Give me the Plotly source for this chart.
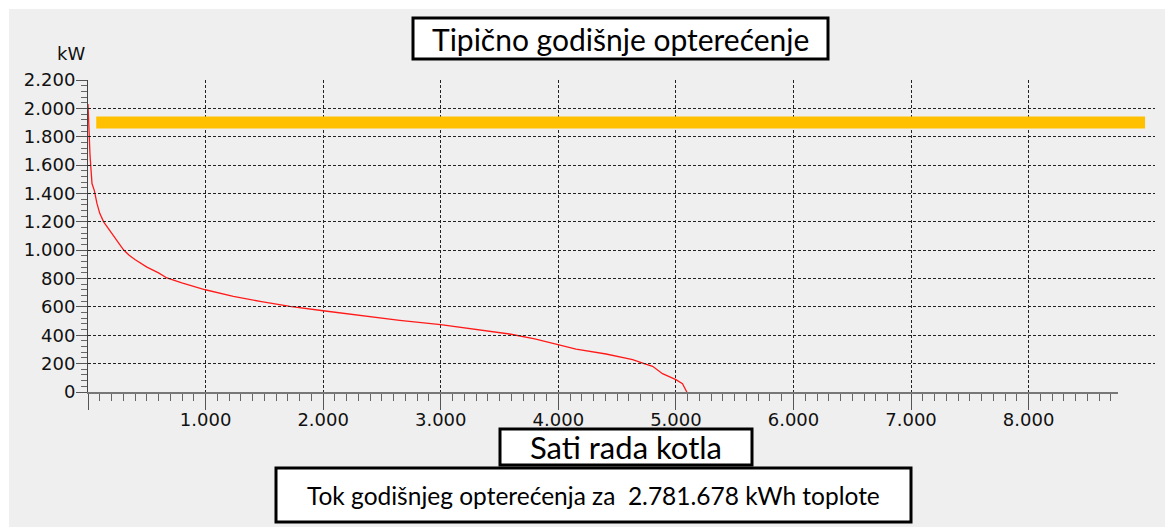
import plotly.graph_objects as go

# ---- data ----
HOURS = [0, 3, 8, 17, 34, 54, 76, 100, 133, 189, 250, 302, 350, 402, 501, 600, 671, 798,
         998, 1236, 1463, 1717, 2000, 2312, 2651, 2999, 3300, 3585, 3800, 3924, 4009, 4151,
         4406, 4632, 4730, 4802, 4886, 5000, 5056, 5079, 5093]
LOAD_KW = [2030, 1930, 1800, 1670, 1470, 1420, 1330, 1260, 1200, 1133, 1065, 1003, 965, 933,
           881, 840, 804, 769, 721, 674, 639, 604, 573, 538, 505, 475, 441, 409, 375, 350, 336,
           303, 268, 228, 200, 181, 129, 87, 59, 28, 0]
CAPACITY_X = [70, 8990]
CAPACITY_KW = [1900, 1900]

X_TICKS = [0, 1000, 2000, 3000, 4000, 5000, 6000, 7000, 8000]
X_LABELS = ["", "1.000", "2.000", "3.000", "4.000", "5.000", "6.000", "7.000", "8.000"]
Y_TICKS = [0, 200, 400, 600, 800, 1000, 1200, 1400, 1600, 1800, 2000, 2200]
Y_LABELS = ["0", "200", "400", "600", "800", "1.000", "1.200", "1.400", "1.600", "1.800",
            "2.000", "2.200"]
X_MAX = 8760
Y_MAX = 2200

TITLE = "Tipično godišnje opterećenje"
X_TITLE = "Sati rada kotla"
FOOTER = "Tok godišnjeg opterećenja za \u00a02.781.678 kWh toplote"
Y_UNIT = "kW"

# ---- layout geometry (pixels) ----
W, H = 1165, 530
L, R, T, B = 88, 10, 80, 138
PW = W - L - R
PH = H - T - B
AX_RIGHT = 1118  # right end of x axis in px
x_dom_end = (AX_RIGHT - L) / PW


def xp(px):
    return (px - L) / PW


def yp(py):
    return (H - B - py) / PH


BG = "#efefef"
TICK_FONT = dict(family="DejaVu Sans, sans-serif", size=18, color="#111")
BOX_FONT = "Lato, Calibri, sans-serif"

fig = go.Figure()

fig.add_trace(go.Scatter(
    x=CAPACITY_X, y=CAPACITY_KW, xaxis="x2", yaxis="y", mode="lines",
    line=dict(color="#ffc000", width=12), hoverinfo="skip", showlegend=False))

fig.add_trace(go.Scatter(
    x=HOURS, y=LOAD_KW, mode="lines", line=dict(color="#ff1a1a", width=1.3),
    showlegend=False))

shapes = []
# white outer strips
for x0, y0, x1, y1 in [(0, 0, 9, H), (0, 0, W, 9), (0, 527, W, H)]:
    shapes.append(dict(type="rect", xref="paper", yref="paper", x0=xp(x0), x1=xp(x1),
                       y0=yp(y1), y1=yp(y0), fillcolor="white", line=dict(width=0),
                       layer="above"))
# text boxes
boxes = [(413, 18, 828, 59), (500, 429, 752, 465), (276, 468, 911, 522)]
for x0, y0, x1, y1 in boxes:
    shapes.append(dict(type="rect", xref="paper", yref="paper", x0=xp(x0), x1=xp(x1),
                       y0=yp(y1), y1=yp(y0), fillcolor="white",
                       line=dict(color="black", width=3), layer="above"))

annotations = [
    dict(text=TITLE, x=xp(620.5), y=yp(39), xref="paper", yref="paper", showarrow=False,
         xanchor="center", yanchor="middle", font=dict(family=BOX_FONT, size=30, color="black")),
    dict(text=X_TITLE, x=xp(626), y=yp(447), xref="paper", yref="paper", showarrow=False,
         xanchor="center", yanchor="middle", font=dict(family=BOX_FONT, size=31, color="black")),
    dict(text=FOOTER, x=xp(593.5), y=yp(495), xref="paper", yref="paper", showarrow=False,
         xanchor="center", yanchor="middle", font=dict(family=BOX_FONT, size=24.5, color="black")),
    dict(text=Y_UNIT, x=xp(71), y=yp(53), xref="paper", yref="paper", showarrow=False,
         xanchor="center", yanchor="middle", font=TICK_FONT),
]

fig.update_layout(
    width=W, height=H,
    margin=dict(l=L, r=R, t=T, b=B, pad=0),
    paper_bgcolor=BG, plot_bgcolor="rgba(0,0,0,0)",
    shapes=shapes, annotations=annotations,
    xaxis=dict(domain=[0, x_dom_end], range=[0, X_MAX], tickvals=X_TICKS, ticktext=X_LABELS,
               ticks="outside", ticklen=16, tickcolor="#555", tickwidth=1,
               minor=dict(dtick=100, tick0=0, ticks="outside", ticklen=7, tickcolor="#666",
                          showgrid=False),
               showline=True, linecolor="#777", linewidth=2,
               showgrid=True, gridcolor="#222", gridwidth=1, griddash="3px,2px",
               zeroline=False, tickfont=TICK_FONT, ticklabelstandoff=-6,
               automargin=False, fixedrange=True),
    xaxis2=dict(domain=[0, 1], range=[0, X_MAX * PW / (AX_RIGHT - L)], anchor="y",
                visible=False, showgrid=False, zeroline=False, fixedrange=True),
    yaxis=dict(range=[0, Y_MAX], tickvals=Y_TICKS, ticktext=Y_LABELS,
               ticks="outside", ticklen=11, tickcolor="#555", tickwidth=1,
               minor=dict(dtick=40, tick0=0, ticks="outside", ticklen=6, tickcolor="#666",
                          showgrid=False),
               showline=True, linecolor="#444", linewidth=1,
               showgrid=True, gridcolor="#222", gridwidth=1, griddash="3px,2px",
               zeroline=False, tickfont=TICK_FONT, ticklabelstandoff=-3,
               automargin=False, fixedrange=True),
)

fig.write_html("out.html", config={"displayModeBar": False},
               post_script="document.body.style.margin='0';document.body.style.overflow='hidden';")
